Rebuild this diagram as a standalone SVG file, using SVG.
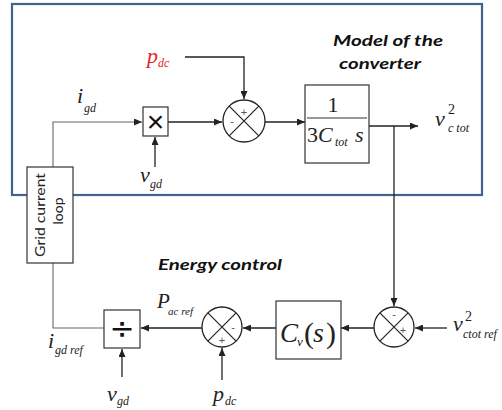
<svg xmlns="http://www.w3.org/2000/svg" width="502" height="410" viewBox="0 0 502 410">
<style>
.blk{fill:#fff;stroke:#333;stroke-width:1.2}
.sum{fill:#fff;stroke:#222;stroke-width:1.3}
.x{stroke:#222;stroke-width:1.2}
.w{fill:none;stroke:#222;stroke-width:1.3}
.g{fill:none;stroke:#666;stroke-width:1.1}
.m{font-family:"Liberation Serif",serif;font-style:italic;fill:#222}
.n{font-family:"Liberation Serif",serif;fill:#222}
.sg{font-family:"Liberation Sans",sans-serif;font-size:11px;fill:#555;text-anchor:middle}
.t{font-family:Lato,"Open Sans",sans-serif;font-weight:bold;font-style:italic;font-size:15px;fill:#111}
</style>
<defs>
<marker id="a" markerUnits="userSpaceOnUse" markerWidth="8" markerHeight="7" refX="8" refY="3.5" orient="auto">
<path d="M0,0 L8,3.5 L0,7 z" fill="#222"/>
</marker>
</defs>
<rect x="12" y="4" width="470" height="191" fill="none" stroke="#41638F" stroke-width="2.2"/>
<g id="connectors">
<path class="g" d="M53,167 V122 H142" marker-end="url(#a)"/>
<path class="w" d="M155,167 V137" marker-end="url(#a)"/>
<path class="w" d="M168,122 H222" marker-end="url(#a)"/>
<path class="w" d="M185,57 H244 V99" marker-end="url(#a)"/>
<path class="w" d="M265,122 H305" marker-end="url(#a)"/>
<path class="w" d="M369,126 H418" marker-end="url(#a)"/>
<path class="w" d="M394,126 V306" marker-end="url(#a)"/>
<path class="w" d="M447,328 H415" marker-end="url(#a)"/>
<path class="w" d="M374,328 H341" marker-end="url(#a)"/>
<path class="w" d="M276,328 H243" marker-end="url(#a)"/>
<path class="w" d="M202,328 H141" marker-end="url(#a)"/>
<path class="w" d="M222,380 V348" marker-end="url(#a)"/>
<path class="w" d="M122,377 V349" marker-end="url(#a)"/>
<path class="g" d="M104,328 H53 V263"/>
</g>
<g id="grid-loop">
<rect class="blk" x="27" y="167" width="46" height="96" stroke="#222"/>
<text font-family="Lato,'Open Sans',sans-serif" font-size="14" fill="#222" text-anchor="middle" transform="translate(45,215) rotate(-90)" textLength="84" lengthAdjust="spacingAndGlyphs">Grid  current</text>
<text font-family="Lato,'Open Sans',sans-serif" font-size="14" fill="#222" text-anchor="middle" transform="translate(63,211) rotate(-90)">loop</text>
</g>
<g id="mult">
<rect class="blk" x="143" y="107" width="25" height="29"/>
<text font-family="'Liberation Sans',sans-serif" font-size="30" fill="#111" text-anchor="middle" x="155.5" y="132">×</text>
</g>
<g id="sum1">
<circle class="sum" cx="244" cy="121" r="21"/>
<path class="x" d="M229.2,106.2 L258.8,135.8 M258.8,106.2 L229.2,135.8"/>
<text class="sg" x="244" y="116">+</text>
<text class="sg" x="232" y="125">-</text>
</g>
<g id="plant">
<rect class="blk" x="305" y="85" width="64" height="78"/>
<line x1="307" y1="118" x2="367" y2="118" stroke="#333" stroke-width="1.2"/>
<text class="n" font-size="22" x="333" y="112" text-anchor="middle">1</text>
<text class="n" font-size="22" x="307" y="142">3<tspan font-style="italic">C</tspan></text>
<text class="m" font-size="12" x="335" y="146">tot</text>
<text class="m" font-size="22" x="355" y="142">s</text>
</g>
<g id="sum2">
<circle class="sum" cx="394" cy="327" r="20"/>
<path class="x" d="M379.9,312.9 L408.1,341.1 M408.1,312.9 L379.9,341.1"/>
<text class="sg" x="394" y="318">-</text>
<text class="sg" x="403" y="334">+</text>
</g>
<g id="cv">
<rect class="blk" x="276" y="301" width="65" height="58"/>
<text class="m" font-size="27" x="280" y="342">C</text>
<text class="m" font-size="13" x="297" y="346">v</text>
<text class="n" font-size="30" x="304" y="343">(</text>
<text class="m" font-size="28" x="313" y="342">s</text>
<text class="n" font-size="30" x="326" y="343">)</text>
</g>
<g id="sum3">
<circle class="sum" cx="222" cy="327" r="20"/>
<path class="x" d="M207.9,312.9 L236.1,341.1 M236.1,312.9 L207.9,341.1"/>
<text class="sg" x="233" y="331">-</text>
<text class="sg" x="222" y="344">+</text>
</g>
<g id="div">
<rect class="blk" x="104" y="310" width="36" height="38"/>
<text font-family="'DejaVu Sans',sans-serif" font-size="30" fill="#111" text-anchor="middle" x="122" y="339">÷</text>
</g>
<g id="labels">
<text class="m" font-size="22" x="147" y="63" style="fill:#E8202A">p<tspan font-size="12" x="158" y="67">dc</tspan></text>
<text class="m" font-size="22" x="77" y="103">i<tspan font-size="12" x="84" y="112">gd</tspan></text>
<text class="m" font-size="22" x="140" y="182">v<tspan font-size="12" x="150" y="188">gd</tspan></text>
<text class="m" font-size="22" x="435" y="126">v<tspan font-size="12" x="448" y="132">c tot</tspan></text>
<text class="n" font-size="14" x="448" y="114">2</text>
<text class="m" font-size="22" x="453" y="331">v<tspan font-size="12" x="463" y="338">ctot ref</tspan></text>
<text class="n" font-size="14" x="465" y="321">2</text>
<text class="m" font-size="21" x="157" y="308">P<tspan font-size="11" x="168" y="315">ac ref</tspan></text>
<text class="m" font-size="22" x="48" y="348">i<tspan font-size="12" x="55" y="354">gd ref</tspan></text>
<text class="m" font-size="22" x="107" y="401">v<tspan font-size="12" x="117" y="405">gd</tspan></text>
<text class="m" font-size="22" x="213" y="401">p<tspan font-size="12" x="225" y="405">dc</tspan></text>
<text class="t" x="333" y="46" textLength="110" lengthAdjust="spacingAndGlyphs">Model of the</text>
<text class="t" x="339" y="69" textLength="82" lengthAdjust="spacingAndGlyphs">converter</text>
<text class="t" x="158" y="270" textLength="124" lengthAdjust="spacingAndGlyphs">Energy control</text>
</g>
</svg>
